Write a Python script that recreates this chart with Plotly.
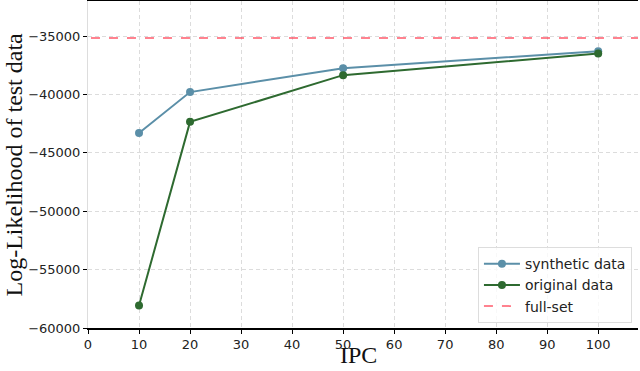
import plotly.graph_objects as go

ipc = [10, 20, 50, 100]
synthetic = [-43300, -39800, -37750, -36300]
original = [-58080, -42350, -38350, -36500]
full_set = -35170

x_ticks = [0, 10, 20, 30, 40, 50, 60, 70, 80, 90, 100]
y_ticks = [-60000, -55000, -50000, -45000, -40000, -35000]
y_tick_text = ["\u221260000", "\u221255000", "\u221250000", "\u221245000", "\u221240000", "\u221235000"]

fig = go.Figure()
fig.add_trace(go.Scatter(x=ipc, y=synthetic, mode="lines+markers", name="synthetic data",
                         line=dict(color="#5b8fa8", width=2), marker=dict(size=8, color="#5b8fa8")))
fig.add_trace(go.Scatter(x=ipc, y=original, mode="lines+markers", name="original data",
                         line=dict(color="#2e6a30", width=2), marker=dict(size=8, color="#2e6a30")))
fig.add_trace(go.Scatter(x=[-10, 120], y=[full_set, full_set], mode="lines", name="full-set",
                         line=dict(color="rgba(255,60,80,0.85)", width=1.5, dash="dash")))

fig.update_layout(
    width=640, height=371,
    margin=dict(l=88, r=2, t=1, b=43),
    paper_bgcolor="white", plot_bgcolor="white",
    font=dict(family="DejaVu Sans", size=13, color="#222"),
    showlegend=True,
    legend=dict(x=0.989, y=0.015, xanchor="right", yanchor="bottom",
                bgcolor="rgba(255,255,255,0.8)", bordercolor="#ddd", borderwidth=1,
                tracegroupgap=0,
                font=dict(family="DejaVu Sans", size=14, color="#222"), itemwidth=36),
    annotations=[
        dict(text="IPC", xref="paper", yref="paper", x=0.5, y=0, xshift=-5, yshift=-27,
             xanchor="center", yanchor="middle", showarrow=False,
             font=dict(family="Liberation Serif", size=24, color="#111")),
        dict(text="Log-Likelihood of test data", xref="paper", yref="paper", x=0, y=0.5,
             xshift=-75, xanchor="center", yanchor="middle", textangle=-90, showarrow=False,
             font=dict(family="Liberation Serif", size=24, color="#111")),
    ],
)
fig.update_xaxes(range=[0, 107.8], tickvals=x_ticks, showgrid=True, automargin=False,
                 gridcolor="#dcdcdc", griddash="4px,3px", gridwidth=1,
                 showline=True, linecolor="black", linewidth=1.5, mirror=True,
                 ticks="outside", ticklen=4, tickcolor="black", zeroline=False)
fig.update_yaxes(range=[-60000, -32000], tickvals=y_ticks, ticktext=y_tick_text, automargin=False,
                 showgrid=True, gridcolor="#dcdcdc", griddash="4px,3px", gridwidth=1,
                 showline=True, linecolor="#dddddd", linewidth=1, mirror=False,
                 ticks="outside", ticklen=4, tickcolor="black", zeroline=False)

fig.write_html("out.html", config={"displayModeBar": False},
               post_script="document.body.style.margin='0';")
